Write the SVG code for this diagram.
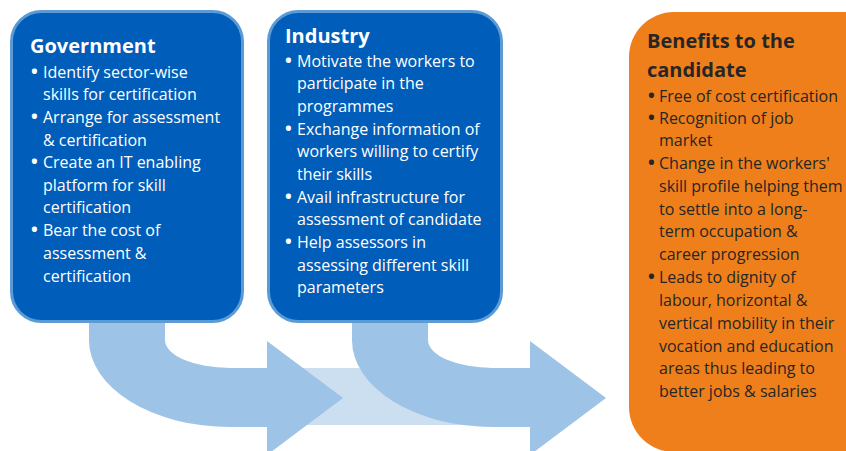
<svg xmlns="http://www.w3.org/2000/svg" width="846" height="451" viewBox="0 0 846 451">
<style>
.box{fill:#005DB9;stroke:#5B9BD5;stroke-width:3}
.arrow{fill:#9DC3E6}
.band{fill:#CCDFF1}
.h{font-family:"Open Sans","DejaVu Sans",sans-serif;font-weight:bold;font-size:20px}
.t{font-family:"Open Sans","DejaVu Sans",sans-serif;font-size:16px}
.b{font-family:"Open Sans","DejaVu Sans",sans-serif;font-size:18px;font-weight:bold}
.w{fill:#FFFFFF}
.d{fill:#262626}
</style>
<rect width="846" height="451" fill="#FFFFFF"/>
<g id="connectors">
<rect class="band" x="280" y="368" width="190" height="57"/>
<path class="arrow" d="M89 318 L89 340 A141 87 0 0 0 230 427 L267 427 L267 455 L343 398 L267 341 L267 368 L230 368 A65 28 0 0 1 165 340 L165 318 Z"/>
<path class="arrow" d="M352 318 L352 340 A141 87 0 0 0 493 427 L530 427 L530 455 L606 398 L530 341 L530 368 L493 368 A65 28 0 0 1 428 340 L428 318 Z"/>
</g>
<g id="government">
<rect class="box" x="11.5" y="11.5" width="231" height="310" rx="30"/>
<text class="h w" x="30" y="53">Government</text>
<g class="b w">
<text x="31" y="78">•</text><text x="31" y="123">•</text><text x="31" y="168">•</text><text x="31" y="236">•</text>
</g>
<g class="t w">
<text x="43" y="78">Identify sector-wise</text>
<text x="43" y="100">skills for certification</text>
<text x="43" y="123">Arrange for assessment</text>
<text x="43" y="146">&amp; certification</text>
<text x="43" y="168">Create an IT enabling</text>
<text x="43" y="191">platform for skill</text>
<text x="43" y="213">certification</text>
<text x="43" y="236">Bear the cost of</text>
<text x="43" y="259">assessment &amp;</text>
<text x="43" y="282">certification</text>
</g>
</g>
<g id="industry">
<rect class="box" x="268.5" y="11.5" width="233" height="310" rx="30"/>
<text class="h w" x="285" y="43">Industry</text>
<g class="b w">
<text x="285" y="67">•</text><text x="285" y="135">•</text><text x="285" y="203">•</text><text x="285" y="248">•</text>
</g>
<g class="t w">
<text x="297" y="67">Motivate the workers to</text>
<text x="297" y="89">participate in the</text>
<text x="297" y="112">programmes</text>
<text x="297" y="135">Exchange information of</text>
<text x="297" y="157">workers willing to certify</text>
<text x="297" y="180">their skills</text>
<text x="297" y="203">Avail infrastructure for</text>
<text x="297" y="225">assessment of candidate</text>
<text x="297" y="248">Help assessors in</text>
<text x="297" y="271">assessing different skill</text>
<text x="297" y="293">parameters</text>
</g>
</g>
<g id="benefits">
<rect x="629" y="12" width="260" height="440" rx="45" fill="#EF7F1A"/>
<text class="h d" x="647" y="48">Benefits to the</text>
<text class="h d" x="647" y="77">candidate</text>
<g class="b d">
<text x="648" y="102">•</text><text x="648" y="124">•</text><text x="648" y="169">•</text><text x="648" y="283">•</text>
</g>
<g class="t d">
<text x="659" y="102">Free of cost certification</text>
<text x="659" y="124">Recognition of job</text>
<text x="659" y="146">market</text>
<text x="659" y="169">Change in the workers'</text>
<text x="659" y="192">skill profile helping them</text>
<text x="659" y="215">to settle into a long-</text>
<text x="659" y="237">term occupation &amp;</text>
<text x="659" y="260">career progression</text>
<text x="659" y="283">Leads to dignity of</text>
<text x="659" y="306">labour, horizontal &amp;</text>
<text x="659" y="329">vertical mobility in their</text>
<text x="659" y="352">vocation and education</text>
<text x="659" y="374">areas thus leading to</text>
<text x="659" y="397">better jobs &amp; salaries</text>
</g>
</g>
</svg>
